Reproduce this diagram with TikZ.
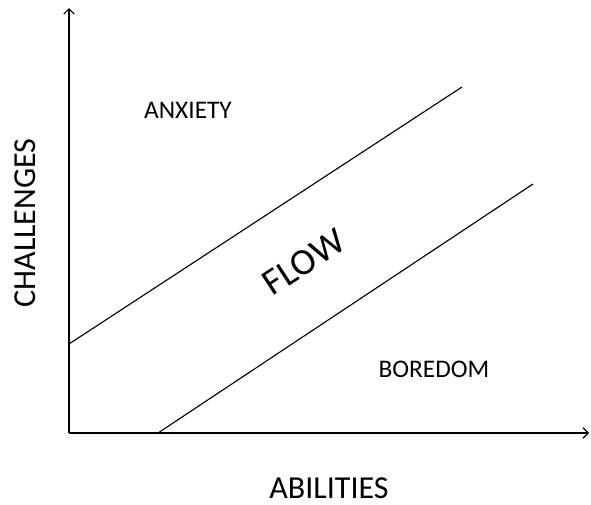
\documentclass[tikz,border=0pt]{standalone}
\usepackage{fontspec}
\setmainfont{Carlito}
\usetikzlibrary{arrows.meta}

\begin{document}
\begin{tikzpicture}[x=0.75pt, y=-0.75pt, >={Straight Barb[length=4pt,width=8pt]}, line width=0.85pt,
    every node/.style={inner sep=0pt}]
    \useasboundingbox (0,0) rectangle (591,504);

    % axes
    \coordinate (origin) at (69,433);
    \coordinate (ytop) at (69,8);
    \coordinate (xend) at (589,433);
    \draw[->] (origin) -- (xend);
    \draw[->] (origin) -- (ytop);

    % flow channel
    \coordinate (upA) at (69,344);
    \coordinate (upB) at (462,87);
    \coordinate (lowA) at (158,433);
    \coordinate (lowB) at (533,184);
    \draw (upA) -- (upB);
    \draw (lowA) -- (lowB);

    \node[font=\fontsize{24}{28}\selectfont] (abilities) at (329,488) {ABILITIES};
    \node[font=\fontsize{24}{28}\selectfont, rotate=90] (challenges) at (25,223) {CHALLENGES};
    \node[font=\fontsize{19}{23}\selectfont] (anxiety) at (188,110) {ANXIETY};
    \node[font=\fontsize{19}{23}\selectfont] (boredom) at (434,369) {BOREDOM};
    \node[font=\fontsize{28}{33}\selectfont, rotate=33] (flow) at (304,262) {FLOW};
\end{tikzpicture}
\end{document}
